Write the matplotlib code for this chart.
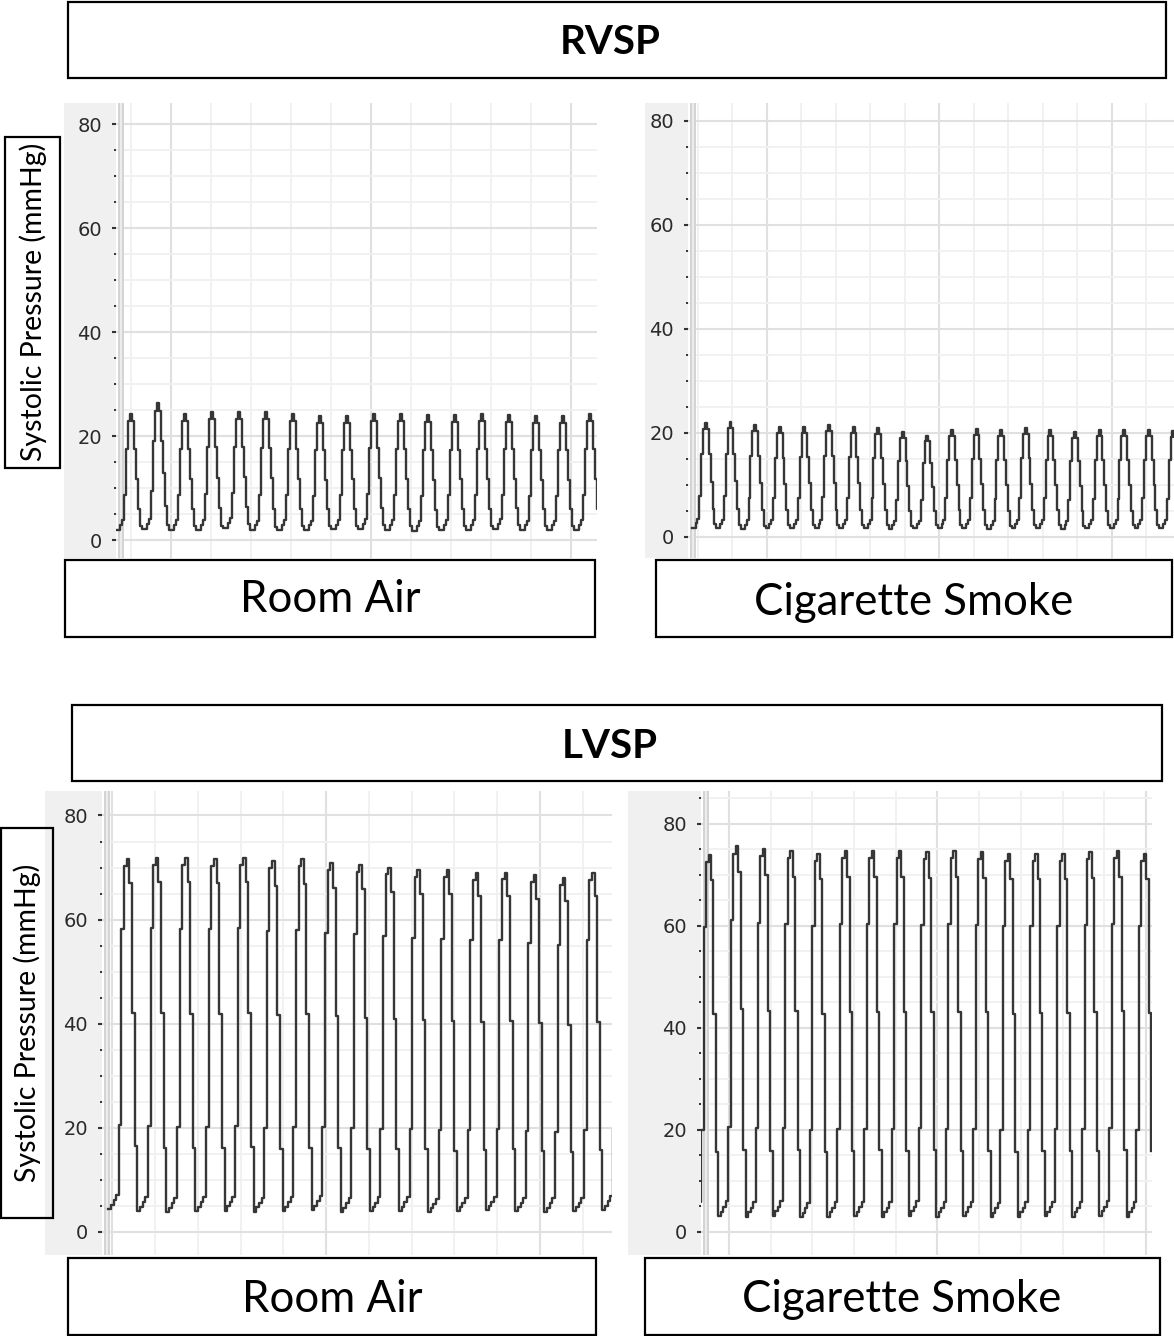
import numpy as np
import matplotlib
matplotlib.use("Agg")
import matplotlib.pyplot as plt
from matplotlib.patches import Rectangle
from matplotlib.ticker import MultipleLocator

# systolic peak / diastolic trough of every beat (mmHg)
rv_room_peaks = [24.2, 26.3, 24.2, 24.6, 24.6, 24.6, 24.2, 23.8, 23.8,
                 24.2, 24.2, 24.0, 24.0, 24.2, 24.0, 23.8, 23.8, 24.2]
rv_room_troughs = [2.0, 2.2, 2.0, 2.0, 2.4, 1.9, 2.0, 2.0, 2.1,
                   2.2, 2.0, 1.8, 2.0, 2.0, 2.2, 2.0, 2.0, 2.0]

rv_smoke_peaks = [21.9, 22.2, 21.5, 21.1, 21.1, 21.5, 21.1, 21.0, 20.2, 19.5,
                  20.5, 20.8, 20.5, 20.9, 20.5, 20.2, 20.5, 20.5, 20.5, 20.3]
rv_smoke_troughs = [1.8, 1.7, 1.6, 1.7, 1.8, 1.7, 1.8, 1.7, 1.6, 1.7,
                    1.8, 1.7, 1.6, 1.7, 1.8, 1.6, 1.7, 1.7, 1.8, 1.7]

# last entry is the beat that only shows its trough at the right edge
lv_room_peaks = [71.7, 71.9, 71.9, 71.7, 71.9, 71.2, 71.6, 70.8, 70.5,
                 70.0, 69.5, 69.5, 69.0, 69.0, 68.5, 68.0, 69.0, 69.0]
lv_room_troughs = [4.4, 4.0, 3.8, 4.0, 4.1, 3.9, 4.0, 4.2, 3.9,
                   4.0, 4.1, 3.8, 4.0, 4.2, 4.0, 3.9, 4.0, 4.3]

lv_smoke_peaks = [74.0, 75.6, 75.1, 74.7, 74.2, 74.7, 74.7, 74.7, 74.5,
                  74.7, 74.5, 74.2, 74.2, 74.2, 74.5, 74.7, 74.2]
lv_smoke_troughs = [3.0, 3.1, 3.0, 3.2, 2.9, 3.0, 3.1, 3.0, 3.2,
                    3.0, 3.1, 2.9, 3.0, 3.1, 3.0, 3.2, 3.0]

# one beat of the recorder's stepped trace, fraction of trough -> peak
rv_beat_shape = [0.0, 0.0, 0.04, 0.08, 0.3, 0.7, 0.94, 1.0, 0.94, 0.7, 0.44, 0.18, 0.03]
lv_beat_shape = [0.0, 0.012, 0.025, 0.04, 0.24, 0.8, 0.98, 1.0, 0.93, 0.56, 0.18]

# time of the first peak and beat period (s)
rv_room_timing = (0.80, 0.135)
rv_smoke_timing = (0.648, 0.1426)
lv_room_timing = (1.074, 0.136)
lv_smoke_timing = (0.908, 0.1305)

y_ticks = [0, 20, 40, 60, 80]

W, H = 1174, 1336
fig = plt.figure(figsize=(W / 100, H / 100), dpi=100)


def fig_rect(x0, y0, x1, y1):
    # pixel box (top-left origin) -> figure fraction
    return [x0 / W, 1 - y1 / H, (x1 - x0) / W, (y1 - y0) / H]


def box(x0, y0, x1, y1):
    r = fig_rect(x0, y0, x1, y1)
    fig.patches.append(Rectangle((r[0], r[1]), r[2], r[3], transform=fig.transFigure,
                                 fill=False, edgecolor="black", linewidth=1.6))


def label(x, y, s, size, weight="normal", rotation=0):
    fig.text(x / W, 1 - y / H, s, ha="center", va="center", fontsize=size,
             fontweight=weight, rotation=rotation, family="Lato")


def build_trace(peaks, troughs, shape, timing):
    first_peak, period = timing
    n = len(shape)
    ipk = int(np.argmax(shape))
    t, p = [], []
    for k in range(len(peaks)):
        t0 = first_peak + k * period - (ipk + 0.5) / n * period
        for i, f in enumerate(shape):
            t.append(t0 + i * period / n)
            p.append(troughs[k] + f * (peaks[k] - troughs[k]))
    return np.array(t), np.array(p)


def panel(px, grey_x0, xlim, ylim, trace):
    x0, y0, x1, y1 = px
    # grey strip behind the tick labels (kept under the axes)
    g = fig_rect(grey_x0, y0, x0, y1)
    fig.patches.append(Rectangle((g[0], g[1]), g[2], g[3], transform=fig.transFigure,
                                 facecolor="#f0f0f0", edgecolor="none", zorder=-5))
    ax = fig.add_axes(fig_rect(x0, y0, x1, y1))
    ax.set_xlim(xlim)
    ax.set_ylim(ylim)
    for s in ax.spines.values():
        s.set_visible(False)

    ax.xaxis.set_major_locator(MultipleLocator(1.0))
    ax.xaxis.set_minor_locator(MultipleLocator(0.2))
    ax.set_yticks(y_ticks)
    ax.yaxis.set_minor_locator(MultipleLocator(5))
    ax.grid(which="minor", color="#f1f1f1", linewidth=1.4)
    ax.grid(which="major", color="#e0e0e0", linewidth=1.5)
    ax.set_axisbelow(True)

    ax.tick_params(axis="x", which="both", length=0, labelbottom=False)
    ax.tick_params(axis="y", which="major", length=3, width=1.5, color="#333333",
                   pad=7, labelsize=14, labelcolor="#2a2a2a")
    ax.tick_params(axis="y", which="minor", length=1.2, width=1.4, color="#333333")
    for t in ax.get_yticklabels():
        t.set_family("DejaVu Sans")

    # double grey axis line of the recorder
    w = x1 - x0
    ax.add_patch(Rectangle((2 / w, 0), 6 / w, 1, transform=ax.transAxes,
                           facecolor="#d4d4d4", edgecolor="none", zorder=1.5))
    ax.add_patch(Rectangle((4.3 / w, 0), 1.4 / w, 1, transform=ax.transAxes,
                           facecolor="#ececec", edgecolor="none", zorder=1.6))

    t, p = trace
    ax.plot(t, p, drawstyle="steps-post", color="#363636", linewidth=1.7, zorder=3)
    return ax


# RVSP row
box(68, 2, 1166, 78)
label(610, 42, "RVSP", 29, weight="bold")

panel((116, 103, 597, 558), 64, (0.725, 3.13), (-3.46, 84.04),
      build_trace(rv_room_peaks, rv_room_troughs, rv_beat_shape, rv_room_timing))
panel((688, 103, 1174, 558), 645, (0.544, 3.361), (-4.04, 83.46),
      build_trace(rv_smoke_peaks, rv_smoke_troughs, rv_beat_shape, rv_smoke_timing))

box(5, 137, 60, 468)
label(33, 302, "Systolic Pressure (mmHg)", 20.5, rotation=90)
box(65, 560, 595, 637)
label(330, 600, "Room Air", 31.5)
box(656, 560, 1172, 637)
label(914, 602, "Cigarette Smoke", 31.5)

# LVSP row
box(72, 705, 1162, 781)
label(610, 746, "LVSP", 29, weight="bold")

panel((102, 791, 612, 1255), 45, (0.952, 3.338), (-4.42, 84.7),
      build_trace(lv_room_peaks, lv_room_troughs, lv_beat_shape, lv_room_timing))
panel((701, 791, 1152, 1255), 628, (0.866, 3.029), (-4.51, 86.47),
      build_trace(lv_smoke_peaks, lv_smoke_troughs, lv_beat_shape, lv_smoke_timing))

box(0.8, 828, 53, 1218)
label(27, 1023, "Systolic Pressure (mmHg)", 20.5, rotation=90)
box(68, 1258, 596, 1335)
label(332, 1299, "Room Air", 31.5)
box(645, 1258, 1160, 1335)
label(902, 1299, "Cigarette Smoke", 31.5)

fig.savefig("out.png", dpi=100)
